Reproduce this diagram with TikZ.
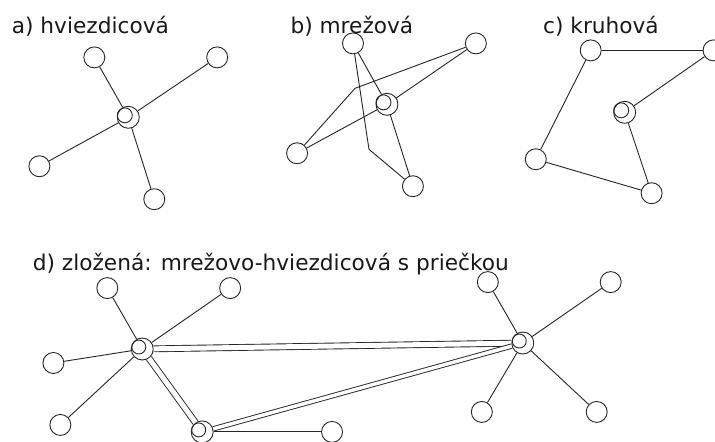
\documentclass[tikz,border=0pt]{standalone}
\usepackage{fontspec}
\setmainfont{DejaVu Sans}
\begin{document}
\begin{tikzpicture}[x=1pt,y=-1pt,
  every path/.style={line width=0.9pt, draw=black!85},
  leaf/.style={circle, draw=black!85, line width=0.9pt, minimum size=21pt, inner sep=0pt},
  hub/.style={circle, draw=black!85, line width=0.9pt, minimum size=22pt, inner sep=0pt},
  ttl/.style={anchor=base west, inner sep=0pt, font=\fontsize{21.7}{26}\selectfont, text=black!90},
  dbl/.style={double=white, double distance=#1},
  link/.style={draw=black!85, line width=0.9pt}]
\useasboundingbox (0,0) rectangle (715,441);
\fill[white] (0,0) rectangle (715,441);

% titles
\node[ttl] (ta) at (11,33) {a) hviezdicová};
\node[ttl] (tb) at (290,33) {b) mrežová};
\node[ttl] (tc) at (543,33) {c) kruhová};
\node[ttl] (td) at (32,270) {d) zložená: mrežovo-hviezdicová s priečkou};

% panel a
\node[leaf] (a1) at (94,57) {};
\node[leaf] (a2) at (217,57) {};
\node[hub]  (ah) at (128,117) {};
\node[leaf] (a3) at (39,166) {};
\node[leaf] (a4) at (154,199) {};
\draw[black!85] ([shift={(-3.5,-2)}]ah.center) circle (7.5);
\draw[link] (a1) -- (ah);
\draw[link] (a2) -- (ah);
\draw[link] (a3) -- (ah);
\draw[link] (a4) -- (ah);

% panel b
\node[leaf] (b1) at (353,43) {};
\node[leaf] (b2) at (476,43) {};
\node[hub]  (bh) at (387,104) {};
\node[leaf] (b3) at (297,153) {};
\node[leaf] (b4) at (413,186) {};
\coordinate (bk1) at (369,149);
\coordinate (bk2) at (355,88);
\draw[black!85] ([shift={(-3.5,-2)}]bh.center) circle (7.5);
\draw[link] (b1) -- (bk1) -- (b4);
\draw[link] (b2) -- (bk2) -- (b3);
\draw[link] (b1) -- (bh);
\draw[link] (b2) -- (bh);
\draw[link] (b3) -- (bh);
\draw[link] (bh) -- (b4);

% panel c
\node[leaf] (c1) at (591,50) {};
\node[leaf] (c2) at (714,50) {};
\node[hub]  (ch) at (625,112) {};
\node[leaf] (c3) at (536,159) {};
\node[leaf] (c4) at (652,193) {};
\draw[black!85] ([shift={(-3.5,-2)}]ch.center) circle (7.5);
\draw[link] (c1) -- (c2);
\draw[link] (c1) -- (c3);
\draw[link] (c3) -- (c4);
\draw[link] (c4) -- (ch);
\draw[link] (ch) -- (c2);

% panel d
\node[leaf] (d1) at (107,288) {};
\node[leaf] (d2) at (230,288) {};
\node[hub]  (h1) at (142,349) {};
\node[leaf] (d3) at (53,363) {};
\node[leaf] (d4) at (60,425) {};
\node[hub]  (h2) at (202,432) {};
\node[leaf] (d5) at (332,432) {};
\node[leaf] (e1) at (488,282) {};
\node[leaf] (e2) at (611,282) {};
\node[hub]  (h3) at (523,343) {};
\node[leaf] (e3) at (482,412) {};
\node[leaf] (e4) at (597,412) {};
\draw[black!85] ([shift={(-3.5,-2)}]h1.center) circle (7);
\draw[black!85] ([shift={(-3.5,-2)}]h2.center) circle (7);
\draw[black!85] ([shift={(-3.5,-2)}]h3.center) circle (7);
\draw[link] (d1) -- (h1);
\draw[link] (d2) -- (h1);
\draw[link] (d3) -- (h1);
\draw[link] (d4) -- (h1);
\draw[link, dbl=5pt] (h1) -- (h3);
\draw[link, dbl=5pt] (h1) -- (h2);
\draw[link, dbl=3.5pt] (h2) -- (h3);
\draw[link] (h2) -- (d5);
\draw[link] (e1) -- (h3);
\draw[link] (e2) -- (h3);
\draw[link] (e3) -- (h3);
\draw[link] (e4) -- (h3);
\end{tikzpicture}
\end{document}
